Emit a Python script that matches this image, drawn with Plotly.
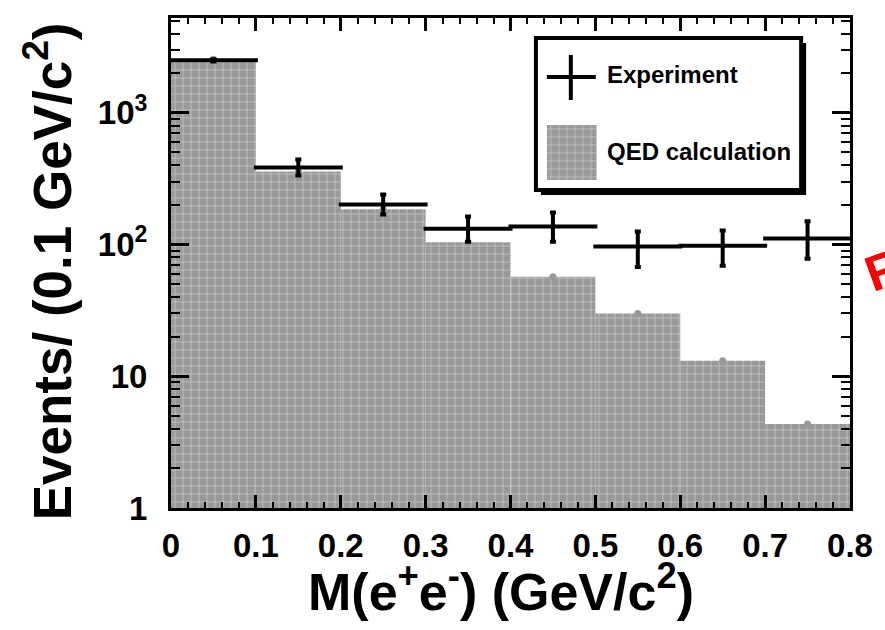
import plotly.graph_objects as go

# ---------------- data ----------------
bin_edges = [0.0, 0.1, 0.2, 0.3, 0.4, 0.5, 0.6, 0.7, 0.8]
qed_values = [2550, 359, 185, 104, 57, 29.9, 13.1, 4.35]
exp_values = [2507, 385, 201, 132, 137, 96.6, 98, 111]
exp_err_up = [50, 58, 39, 31, 38, 29, 30, 39]
exp_err_down = [50, 50, 32, 27, 32, 29, 29, 33]

x_tick_vals = [0, 0.1, 0.2, 0.3, 0.4, 0.5, 0.6, 0.7, 0.8]
x_tick_text = ["0", "0.1", "0.2", "0.3", "0.4", "0.5", "0.6", "0.7", "0.8"]
y_tick_vals = [1, 10, 100, 1000]
y_tick_text = ["1", "10", "10<sup>2</sup>", "10<sup>3</sup>"]
y_minor_vals = [m * d for d in (1, 10, 100, 1000) for m in range(2, 10) if m * d < 5300]

legend_labels = ["Experiment", "QED calculation"]

centers = [(a + b) / 2 for a, b in zip(bin_edges[:-1], bin_edges[1:])]
widths = [b - a for a, b in zip(bin_edges[:-1], bin_edges[1:])]
half = [w / 2 for w in widths]

FONT = "Liberation Sans"
GRAY = "#999999"

W, H = 885, 630
L, R, T, B = 171, 33, 18, 122
PW, PH = W - L - R, H - T - B


def px(xp):
    return (xp - L) / PW


def py(yp):
    return (H - B - yp) / PH


PATTERN = dict(shape="+", fgcolor="#f2f2f2", bgcolor=GRAY, size=8, solidity=0.18)

fig = go.Figure()

fig.add_trace(go.Bar(
    x=centers, y=qed_values, width=widths,
    marker=dict(color=GRAY, line=dict(width=0), pattern=PATTERN),
    showlegend=False, hoverinfo="skip",
))
fig.add_trace(go.Scatter(
    x=centers, y=qed_values, mode="markers",
    marker=dict(color=GRAY, size=7), showlegend=False, hoverinfo="skip",
))
fig.add_trace(go.Scatter(
    x=centers, y=exp_values, mode="markers",
    marker=dict(color="black", size=1),
    error_x=dict(type="data", array=half, color="black", thickness=4, width=2),
    error_y=dict(type="data", array=exp_err_up, arrayminus=exp_err_down,
                 color="black", thickness=4, width=3),
    showlegend=False,
))

# legend swatch for QED (drawn in its own small invisible axes)
fig.add_trace(go.Bar(
    x=[0.5], y=[1], width=[1], xaxis="x2", yaxis="y2",
    marker=dict(color=GRAY, line=dict(width=0), pattern=PATTERN),
    showlegend=False, hoverinfo="skip",
))

axis_common = dict(
    showline=True, linewidth=3, linecolor="black", mirror="ticks",
    ticks="inside", tickcolor="black", showgrid=False, zeroline=False,
    tickfont=dict(family=FONT, size=33, color="black", weight="bold"),
)

fig.update_layout(
    width=W, height=H,
    margin=dict(l=L, r=R, t=T, b=B),
    paper_bgcolor="white", plot_bgcolor="white",
    showlegend=False,
    xaxis=dict(range=[0, 0.8], tickmode="array", tickvals=x_tick_vals,
               ticktext=x_tick_text, ticklen=13, tickwidth=3,
               minor=dict(dtick=0.02, tick0=0, ticks="inside", ticklen=6,
                          tickwidth=2, tickcolor="black"),
               ticklabelstandoff=6, **axis_common),
    yaxis=dict(type="log", range=[0, 3.72], tickmode="array",
               tickvals=y_tick_vals, ticktext=y_tick_text, ticklen=18,
               tickwidth=3,
               minor=dict(tickmode="array", tickvals=y_minor_vals,
                          ticks="inside", ticklen=9, tickwidth=2,
                          tickcolor="black"),
               ticklabelstandoff=14, **axis_common),
    xaxis2=dict(domain=[px(548), px(598)], range=[0, 1], visible=False,
                anchor="y2", fixedrange=True),
    yaxis2=dict(domain=[py(180), py(125)], range=[0, 1], visible=False,
                anchor="x2", fixedrange=True),
)

shapes = [
    # legend shadow and box
    dict(type="rect", xref="paper", yref="paper",
         x0=px(542), x1=px(808), y0=py(195), y1=py(43),
         fillcolor="black", line=dict(width=0), layer="below"),
    dict(type="rect", xref="paper", yref="paper",
         x0=px(537), x1=px(803), y0=py(190), y1=py(38),
         fillcolor="white", line=dict(color="black", width=4), layer="below"),
    # legend cross for Experiment
    dict(type="line", xref="paper", yref="paper",
         x0=px(548), x1=px(597), y0=py(77), y1=py(77),
         line=dict(color="black", width=4), layer="above"),
    dict(type="line", xref="paper", yref="paper",
         x0=px(572), x1=px(572), y0=py(55), y1=py(100),
         line=dict(color="black", width=4), layer="above"),
]
fig.update_layout(shapes=shapes)

ann_font_leg = dict(family=FONT, size=24, color="black", weight="bold")
fig.add_annotation(x=px(606), y=py(75), xref="paper", yref="paper",
                   text=legend_labels[0], showarrow=False, xanchor="left",
                   yanchor="middle", font=ann_font_leg)
fig.add_annotation(x=px(606), y=py(152), xref="paper", yref="paper",
                   text=legend_labels[1], showarrow=False, xanchor="left",
                   yanchor="middle", font=ann_font_leg)

# axis titles
fig.add_annotation(x=px(502), y=py(588), xref="paper", yref="paper",
                   text="M(e<sup>+</sup>e<sup>-</sup>) (GeV/c<sup>2</sup>)",
                   showarrow=False, xanchor="center", yanchor="middle",
                   font=dict(family=FONT, size=52, color="black", weight="bold"))
fig.add_annotation(x=px(47), y=py(271), xref="paper", yref="paper",
                   text="Events/ (0.1 GeV/c<sup>2</sup>)", textangle=-90,
                   showarrow=False, xanchor="center", yanchor="middle",
                   font=dict(family=FONT, size=53, color="black", weight="bold"))

# red partial text at right edge
fig.add_annotation(x=px(857), y=py(270), xref="paper", yref="paper",
                   text="R", textangle=-20, showarrow=False,
                   xanchor="left", yanchor="middle",
                   font=dict(family=FONT, size=50, color="red", weight="bold"))

fig.write_html("out.html")
